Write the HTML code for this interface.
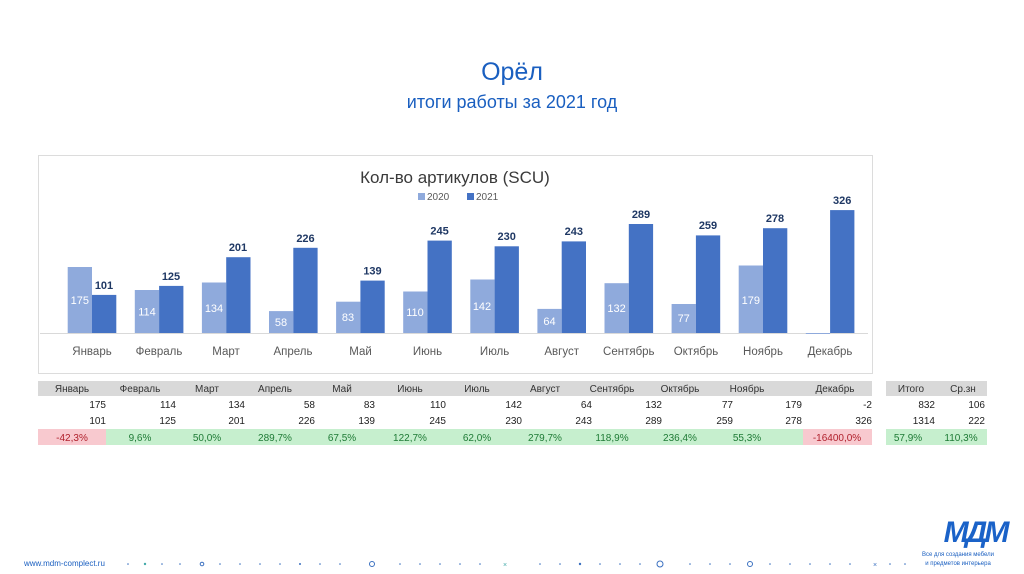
<!DOCTYPE html>
<html><head><meta charset="utf-8"><style>
html,body{margin:0;padding:0;background:#fff;width:1024px;height:574px;overflow:hidden}
svg{display:block;font-family:"Liberation Sans","DejaVu Sans",sans-serif}
</style></head><body>
<svg width="1024" height="574" viewBox="0 0 1024 574" xmlns="http://www.w3.org/2000/svg">
<text x="512" y="80" text-anchor="middle" font-size="25" fill="#1a5fc0">Орёл</text>
<text x="512" y="108" text-anchor="middle" font-size="18" fill="#1a5fc0">итоги работы за 2021 год</text>

<rect x="38.5" y="155.5" width="834" height="218" fill="#fff" stroke="#dcdcdc"/>
<text x="455" y="183" text-anchor="middle" font-size="17" fill="#3a3a3a">Кол-во артикулов (SCU)</text>
<rect x="418" y="193" width="7" height="7" fill="#8faadc"/><text x="427" y="200" font-size="10" fill="#595959">2020</text>
<rect x="467" y="193" width="7" height="7" fill="#4472c4"/><text x="476" y="200" font-size="10" fill="#595959">2021</text>
<line x1="40" y1="333.5" x2="868" y2="333.5" stroke="#d9d9d9"/>

<g fill="#8faadc">
<rect x="67.7" y="267" width="24.3" height="66"/>
<rect x="134.8" y="290" width="24.3" height="43"/>
<rect x="201.9" y="282.5" width="24.3" height="50.5"/>
<rect x="269" y="311.1" width="24.3" height="21.9"/>
<rect x="336.1" y="301.7" width="24.3" height="31.3"/>
<rect x="403.2" y="291.5" width="24.3" height="41.5"/>
<rect x="470.3" y="279.5" width="24.3" height="53.5"/>
<rect x="537.4" y="308.9" width="24.3" height="24.1"/>
<rect x="604.5" y="283.2" width="24.3" height="49.8"/>
<rect x="671.6" y="304" width="24.3" height="29"/>
<rect x="738.7" y="265.5" width="24.3" height="67.5"/>
<rect x="805.8" y="333" width="24.3" height="1"/>
</g>
<g fill="#4472c4">
<rect x="92" y="294.9" width="24.3" height="38.1"/>
<rect x="159.1" y="285.9" width="24.3" height="47.1"/>
<rect x="226.2" y="257.2" width="24.3" height="75.8"/>
<rect x="293.3" y="247.8" width="24.3" height="85.2"/>
<rect x="360.4" y="280.6" width="24.3" height="52.4"/>
<rect x="427.5" y="240.6" width="24.3" height="92.4"/>
<rect x="494.6" y="246.3" width="24.3" height="86.7"/>
<rect x="561.7" y="241.4" width="24.3" height="91.6"/>
<rect x="628.8" y="224" width="24.3" height="109"/>
<rect x="695.9" y="235.4" width="24.3" height="97.6"/>
<rect x="763" y="228.2" width="24.3" height="104.8"/>
<rect x="830.1" y="210.1" width="24.3" height="122.9"/>
</g>
<g fill="#fff" font-size="11" text-anchor="middle">
<text x="79.8" y="304">175</text><text x="147" y="315.5">114</text><text x="214" y="312">134</text>
<text x="281" y="326">58</text><text x="348" y="321">83</text><text x="415" y="316">110</text>
<text x="482" y="310">142</text><text x="549.5" y="325">64</text><text x="616.6" y="312">132</text>
<text x="683.7" y="322">77</text><text x="750.8" y="304">179</text>
</g>
<g fill="#1f3864" font-size="11" font-weight="bold" text-anchor="middle">
<text x="104" y="289">101</text><text x="171" y="280">125</text><text x="238" y="251">201</text>
<text x="305.5" y="242">226</text><text x="372.5" y="274.5">139</text><text x="439.6" y="234.5">245</text>
<text x="506.7" y="240">230</text><text x="573.8" y="235">243</text><text x="641" y="218">289</text>
<text x="708" y="229">259</text><text x="775" y="222">278</text><text x="842.2" y="204">326</text>
</g>
<g fill="#595959" font-size="11.5" text-anchor="middle">
<text x="92" y="355">Январь</text><text x="159" y="355">Февраль</text><text x="226" y="355">Март</text>
<text x="293" y="355">Апрель</text><text x="360.5" y="355">Май</text><text x="427.5" y="355">Июнь</text>
<text x="494.6" y="355">Июль</text><text x="561.7" y="355">Август</text><text x="628.8" y="355">Сентябрь</text>
<text x="696" y="355">Октябрь</text><text x="763" y="355">Ноябрь</text><text x="830" y="355">Декабрь</text>
</g>

<rect x="38" y="381" width="834" height="15" fill="#d9d9d9"/>
<rect x="38" y="429" width="68" height="16" fill="#f8c9cf"/>
<rect x="106" y="429" width="697" height="16" fill="#c6efce"/>
<rect x="803" y="429" width="69" height="16" fill="#f8c9cf"/>
<rect x="886" y="381" width="101" height="15" fill="#d9d9d9"/>
<rect x="886" y="429" width="101" height="16" fill="#c6efce"/>
<g font-size="10" fill="#333" text-anchor="middle">
<text x="72" y="392">Январь</text><text x="140" y="392">Февраль</text><text x="207" y="392">Март</text>
<text x="275" y="392">Апрель</text><text x="342" y="392">Май</text><text x="410" y="392">Июнь</text>
<text x="477" y="392">Июль</text><text x="545" y="392">Август</text><text x="612" y="392">Сентябрь</text>
<text x="680" y="392">Октябрь</text><text x="747" y="392">Ноябрь</text><text x="835" y="392">Декабрь</text>
<text x="911" y="392">Итого</text><text x="963" y="392">Ср.зн</text>
</g>
<g font-size="10" fill="#222" text-anchor="end">
<text x="106" y="408">175</text><text x="176" y="408">114</text><text x="245" y="408">134</text><text x="315" y="408">58</text><text x="375" y="408">83</text><text x="446" y="408">110</text><text x="522" y="408">142</text><text x="592" y="408">64</text><text x="662" y="408">132</text><text x="733" y="408">77</text><text x="802" y="408">179</text><text x="872" y="408">-2</text><text x="935" y="408">832</text><text x="985" y="408">106</text>
<text x="106" y="424">101</text><text x="176" y="424">125</text><text x="245" y="424">201</text><text x="315" y="424">226</text><text x="375" y="424">139</text><text x="446" y="424">245</text><text x="522" y="424">230</text><text x="592" y="424">243</text><text x="662" y="424">289</text><text x="733" y="424">259</text><text x="802" y="424">278</text><text x="872" y="424">326</text><text x="935" y="424">1314</text><text x="985" y="424">222</text>
</g>
<g font-size="10" fill="#1e7a35" text-anchor="middle">
<text x="72" y="441" fill="#b0202c">-42,3%</text><text x="140" y="441">9,6%</text><text x="207" y="441">50,0%</text>
<text x="275" y="441">289,7%</text><text x="342" y="441">67,5%</text><text x="410" y="441">122,7%</text>
<text x="477" y="441">62,0%</text><text x="545" y="441">279,7%</text><text x="612" y="441">118,9%</text>
<text x="680" y="441">236,4%</text><text x="747" y="441">55,3%</text><text x="837" y="441" fill="#b0202c">-16400,0%</text>
<text x="908" y="441">57,9%</text><text x="961" y="441">110,3%</text>
</g>

<text x="24" y="566" font-size="8" fill="#1a5fc0">www.mdm-complect.ru</text>
<g fill="#3a70c0">
<circle cx="128" cy="564" r="0.8"/><circle cx="145" cy="564" r="1.2" fill="#4aa"/><circle cx="162" cy="564" r="0.8"/><circle cx="180" cy="564" r="0.8"/>
<circle cx="220" cy="564" r="0.8"/><circle cx="240" cy="564" r="0.8"/><circle cx="260" cy="564" r="0.8"/><circle cx="280" cy="564" r="0.8"/><circle cx="300" cy="564" r="1"/><circle cx="320" cy="564" r="0.8"/><circle cx="340" cy="564" r="0.8"/>
<circle cx="400" cy="564" r="0.8"/><circle cx="420" cy="564" r="0.8"/><circle cx="440" cy="564" r="0.8"/><circle cx="460" cy="564" r="0.8"/><circle cx="480" cy="564" r="0.8"/>
<circle cx="540" cy="564" r="0.8"/><circle cx="560" cy="564" r="0.8"/><circle cx="580" cy="564" r="1.2"/><circle cx="600" cy="564" r="0.8"/><circle cx="620" cy="564" r="0.8"/><circle cx="640" cy="564" r="0.8"/>
<circle cx="690" cy="564" r="0.8"/><circle cx="710" cy="564" r="0.8"/><circle cx="730" cy="564" r="0.8"/>
<circle cx="770" cy="564" r="0.8"/><circle cx="790" cy="564" r="0.8"/><circle cx="810" cy="564" r="0.8"/><circle cx="830" cy="564" r="0.8"/><circle cx="850" cy="564" r="0.8"/><circle cx="890" cy="564" r="0.8"/><circle cx="905" cy="564" r="0.8"/>
</g>
<g fill="none" stroke="#3a70c0" stroke-width="1">
<circle cx="202" cy="564" r="1.8"/><circle cx="372" cy="564" r="2.5"/><circle cx="750" cy="564" r="2.5"/><circle cx="660" cy="564" r="3"/>
</g>
<text x="505" y="567" font-size="7" fill="#4aa" text-anchor="middle">×</text>
<text x="875" y="567" font-size="7" fill="#3a70c0" text-anchor="middle">×</text>
<text x="975" y="542" text-anchor="middle" font-size="30" font-weight="bold" font-style="italic" fill="#1a62c8" letter-spacing="-3">MДM</text>
<text x="958" y="556" text-anchor="middle" font-size="6" fill="#1a5fc0">Все для создания мебели</text>
<text x="958" y="565" text-anchor="middle" font-size="6" fill="#1a5fc0">и предметов интерьера</text>
</svg>
</body></html>
